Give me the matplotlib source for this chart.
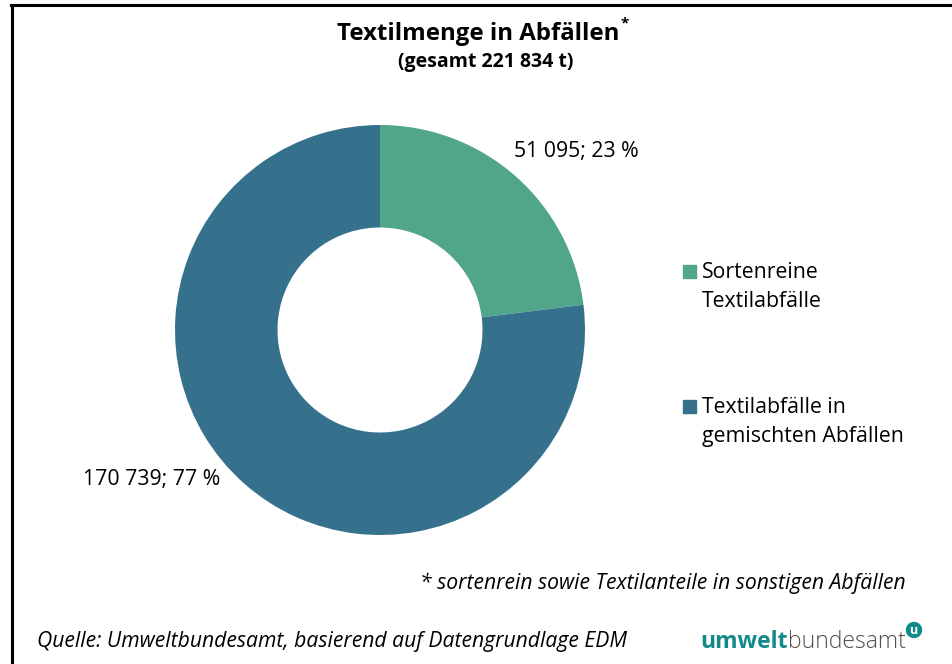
import matplotlib.pyplot as plt
from matplotlib.patches import Ellipse, Rectangle
from matplotlib.lines import Line2D

plt.rcParams["font.family"] = ["Open Sans", "DejaVu Sans"]

# Daten
categories = ["Sortenreine\nTextilabfälle", "Textilabfälle in\ngemischten Abfällen"]
values = [51095, 170739]
labels = ["51 095; 23 %", "170 739; 77 %"]
colors = ["#50a58a", "#35718d"]

W, H = 952, 664
fig = plt.figure(figsize=(W / 100, H / 100), dpi=100)


def fx(x):
    return x / W


def fy(y):
    return 1 - y / H


# Rahmen oben und links
fig.add_artist(Line2D([fx(11), 1], [fy(5), fy(5)], color="black", lw=2.2))
fig.add_artist(Line2D([fx(12), fx(12)], [fy(5), 0], color="black", lw=2.2))

# Titel
t = fig.text(fx(478), fy(34), "Textilmenge in Abfällen", ha="center", va="center",
             fontsize=17.3, fontweight="bold")
fig.canvas.draw()
tb = t.get_window_extent()
fig.text(tb.x1 / W + 1 / W, fy(23), "*", ha="left", va="center", fontsize=11,
         fontweight="bold")
fig.text(fx(486), fy(62), "(gesamt 221 834 t)", ha="center", va="center",
         fontsize=14, fontweight="bold")

# Donut
cx, cy, r = 380, 330, 205
ax = fig.add_axes([fx(cx - r), fy(cy + r), 2 * r / W, 2 * r / H])
wedges, _ = ax.pie(values, colors=colors, startangle=90, counterclock=False,
                   radius=1, wedgeprops=dict(width=0.5, linewidth=0))
ax.set_xlim(-1, 1)
ax.set_ylim(-1, 1)
ax.set_aspect("equal")
ax.axis("off")

# Datenbeschriftungen
fig.text(fx(576), fy(152), labels[0], ha="center", va="center", fontsize=15.3)
fig.text(fx(152), fy(480), labels[1], ha="center", va="center", fontsize=15.3)

# Legende
leg_y = [271, 406]
for cat, col, y in zip(categories, colors, leg_y):
    fig.add_artist(Rectangle((fx(683), fy(y + 7)), 13 / W, 13 / H, color=col,
                             transform=fig.transFigure))
    fig.text(fx(702), fy(y - 9), cat, ha="left", va="top", fontsize=15.3,
             linespacing=1.5)

# Fußnote und Quelle
fig.text(fx(906), fy(583), "* sortenrein sowie Textilanteile in sonstigen Abfällen",
         ha="right", va="center", fontsize=15.2, style="italic")
fig.text(fx(37), fy(642), "Quelle: Umweltbundesamt, basierend auf Datengrundlage EDM",
         ha="left", va="center", fontsize=15.2, style="italic")

# Logo
t1 = fig.text(fx(700), fy(642), "umwelt", ha="left", va="center", fontsize=16.5,
              fontweight="bold", color="#138a8a")
fig.canvas.draw()
bb = t1.get_window_extent()
fig.text(bb.x1 / W, fy(642), "bundesamt", ha="left", va="center", fontsize=16.5,
         fontweight="light", color="#505050")
fig.add_artist(Ellipse((fx(914), fy(630)), 15 / W, 15 / H, color="#138a8a",
                       transform=fig.transFigure))
fig.text(fx(914), fy(631), "u", ha="center", va="center", fontsize=9,
         fontweight="bold", color="white")

fig.savefig("out.png", dpi=100)
